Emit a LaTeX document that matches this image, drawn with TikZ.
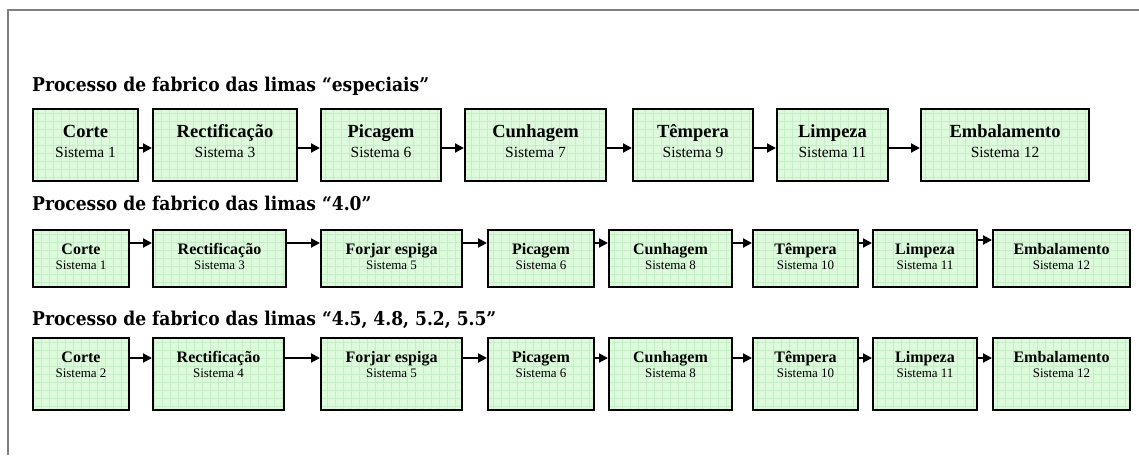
\documentclass[tikz,border=0pt]{standalone}
\usepackage{fontspec}
\setmainfont{Liberation Serif}
\newfontfamily\headingfont{DejaVu Serif Condensed}
\usetikzlibrary{arrows.meta}

\definecolor{boxfill}{HTML}{DDFADD}
\definecolor{boxgrid}{HTML}{C6EEC6}
\definecolor{framegray}{HTML}{7F7F7F}

\tikzset{
  stage/.style={draw=black, line width=2pt, fill=boxfill, rectangle,
    inner sep=0pt, anchor=north west,
    path picture={\draw[boxgrid, line width=0.5pt, step=8pt]
      (path picture bounding box.south west) grid (path picture bounding box.north east);}},
  heading/.style={anchor=base west, inner sep=0pt},
  label/.style={anchor=base, inner sep=0pt},
  flow/.style={line width=2pt, -{Triangle[length=9pt,width=9pt]}},
}
\newcommand\headingtext[1]{{\headingfont\bfseries\fontsize{19}{22}\selectfont #1}}
\newcommand\bignametext[1]{{\bfseries\fontsize{18.5}{21}\selectfont #1}}
\newcommand\bigsystext[1]{{\fontsize{15.5}{18}\selectfont #1}}
\newcommand\smallnametext[1]{{\bfseries\fontsize{16}{19}\selectfont #1}}
\newcommand\smallsystext[1]{{\fontsize{13}{16}\selectfont #1}}

% #1 node name, #2 left x, #3 top y, #4 width, #5 height,
% #6 stage name, #7 system, #8 size prefix (big/small)
\newcommand\stagebox[8]{%
  \node[stage, minimum width=#4pt, minimum height=#5pt] (#1) at (#2,#3) {};
  \node[label] (#1-name) at ([yshift=-\nameoff pt]#1.north) {\csname #8nametext\endcsname{#6}};
  \node[label] (#1-sys) at ([yshift=-\sysoff pt]#1.north) {\csname #8systext\endcsname{#7}};
}

\begin{document}
\begin{tikzpicture}[x=1pt, y=-1pt]
  \useasboundingbox (0,0) rectangle (1139,455);
  \fill[white] (0,0) rectangle (1139,455);

  % outer frame (left and top edges)
  \draw[framegray, line width=1.5pt] (8,455) -- (8,10) -- (1139,10);

  % row levels for the connectors
  \coordinate (lvlA) at (0,148);
  \coordinate (lvlB) at (0,243);
  \coordinate (lvlBb) at (0,240);
  \coordinate (lvlC) at (0,358);

  % ---------------- especiais ----------------
  \node[heading] (headA) at (32,91) {\headingtext{Processo de fabrico das limas “especiais”}};
  \def\nameoff{29}\def\sysoff{49}
  \stagebox{a1}{32}{108}{105}{72}{Corte}{Sistema 1}{big}
  \stagebox{a2}{152}{108}{144}{72}{Rectificação}{Sistema 3}{big}
  \stagebox{a3}{320}{108}{120}{72}{Picagem}{Sistema 6}{big}
  \stagebox{a4}{464}{108}{141}{72}{Cunhagem}{Sistema 7}{big}
  \stagebox{a5}{632}{108}{120}{72}{Têmpera}{Sistema 9}{big}
  \stagebox{a6}{776}{108}{111}{72}{Limpeza}{Sistema 11}{big}
  \stagebox{a7}{920}{108}{168}{72}{Embalamento}{Sistema 12}{big}
  \foreach \p/\q in {a1/a2,a2/a3,a3/a4,a4/a5,a5/a6,a6/a7}
    \draw[flow] (\p.east |- lvlA) -- (\q.west |- lvlA);

  % ---------------- 4.0 ----------------
  \node[heading] (headB) at (32,210) {\headingtext{Processo de fabrico das limas “4.0”}};
  \def\nameoff{25}\def\sysoff{40}
  \stagebox{b1}{32}{229}{96}{57}{Corte}{Sistema 1}{small}
  \stagebox{b2}{152}{229}{133}{57}{Rectificação}{Sistema 3}{small}
  \stagebox{b3}{320}{229}{141}{57}{Forjar espiga}{Sistema 5}{small}
  \stagebox{b4}{487}{229}{106}{57}{Picagem}{Sistema 6}{small}
  \stagebox{b5}{608}{229}{123}{57}{Cunhagem}{Sistema 8}{small}
  \stagebox{b6}{752}{229}{105}{57}{Têmpera}{Sistema 10}{small}
  \stagebox{b7}{872}{229}{104}{57}{Limpeza}{Sistema 11}{small}
  \stagebox{b8}{992}{229}{137}{57}{Embalamento}{Sistema 12}{small}
  \foreach \p/\q in {b1/b2,b2/b3,b3/b4,b4/b5,b5/b6,b6/b7}
    \draw[flow] (\p.east |- lvlB) -- (\q.west |- lvlB);
  \draw[flow] (b7.east |- lvlBb) -- (b8.west |- lvlBb);

  % ---------------- 4.5, 4.8, 5.2, 5.5 ----------------
  \node[heading] (headC) at (32,325) {\headingtext{Processo de fabrico das limas “4.5, 4.8, 5.2, 5.5”}};
  \stagebox{c1}{32}{337}{96}{72}{Corte}{Sistema 2}{small}
  \stagebox{c2}{152}{337}{131}{72}{Rectificação}{Sistema 4}{small}
  \stagebox{c3}{320}{337}{141}{72}{Forjar espiga}{Sistema 5}{small}
  \stagebox{c4}{487}{337}{106}{72}{Picagem}{Sistema 6}{small}
  \stagebox{c5}{608}{337}{123}{72}{Cunhagem}{Sistema 8}{small}
  \stagebox{c6}{752}{337}{105}{72}{Têmpera}{Sistema 10}{small}
  \stagebox{c7}{872}{337}{104}{72}{Limpeza}{Sistema 11}{small}
  \stagebox{c8}{992}{337}{137}{72}{Embalamento}{Sistema 12}{small}
  \foreach \p/\q in {c1/c2,c2/c3,c3/c4,c4/c5,c5/c6,c6/c7,c7/c8}
    \draw[flow] (\p.east |- lvlC) -- (\q.west |- lvlC);
\end{tikzpicture}
\end{document}
